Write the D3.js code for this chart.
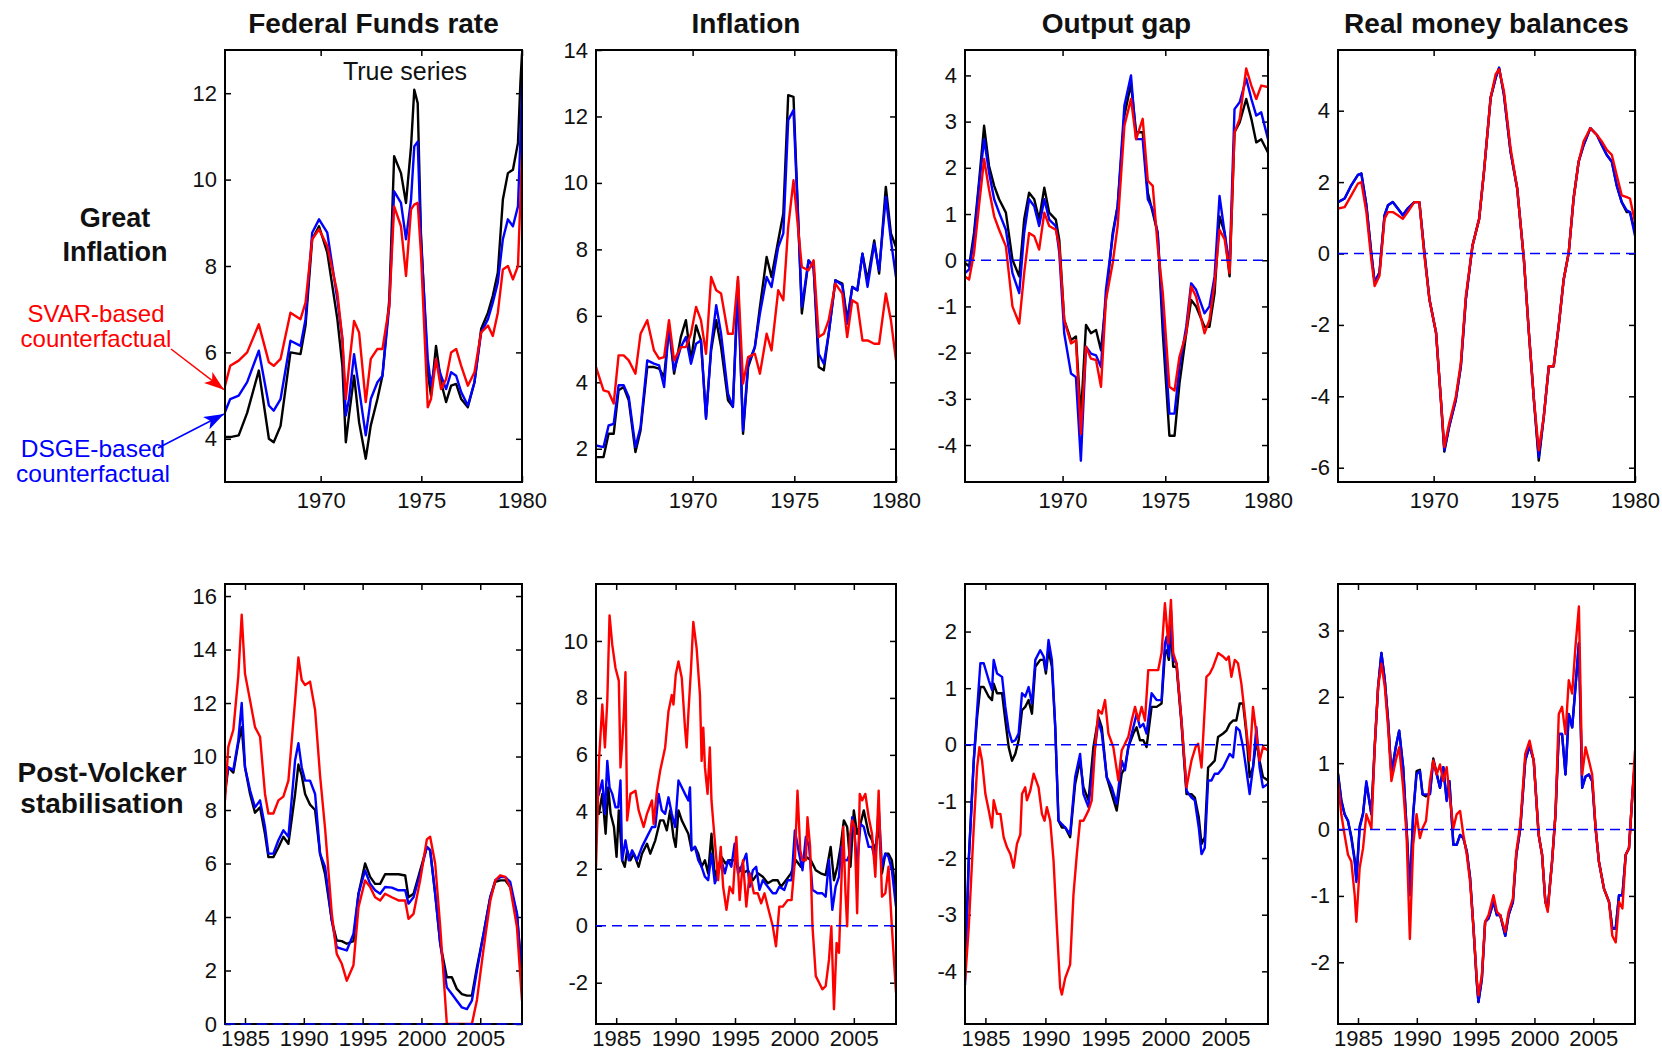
<!DOCTYPE html>
<html>
<head>
<meta charset="utf-8">
<script src="https://cdn.jsdelivr.net/npm/d3@7"></script>
<style>
  body { margin: 0; background: #fff; }
  text { font-family: "Liberation Sans", Arial, sans-serif; }
</style>
</head>
<body>
<svg id="chart" width="1662" height="1051"></svg>
<script>
// ---------------------------------------------------------------------------
// Data. Three series per panel:
// true series (black), DSGE-based counterfactual (blue), SVAR-based (red)
// ---------------------------------------------------------------------------

const colTitles = ["Federal Funds rate", "Inflation", "Output gap", "Real money balances"];
const topYearTicks = [1970, 1975, 1980];
const bottomYearTicks = [1985, 1990, 1995, 2000, 2005];
const topRange = [1965.25, 1980.0];
const bottomRange = [1983.3, 2008.55];

// --- Great Inflation: Federal Funds rate
const p1T = [1965.25,1965.51,1965.93,1966.35,1966.93,1967.43,1967.67,1968.01,1968.5,1969.0,1969.25,1969.58,1969.92,1970.33,1970.83,1971.08,1971.25,1971.41,1971.66,1971.91,1972.24,1972.49,1972.82,1973.07,1973.41,1973.65,1973.99,1974.24,1974.49,1974.65,1974.82,1974.98,1975.32,1975.48,1975.73,1975.98,1976.23,1976.48,1976.73,1976.98,1977.31,1977.64,1977.97,1978.31,1978.55,1978.8,1979.05,1979.3,1979.55,1979.8,1979.92,1980.0];
const p1True = [4.04,4.04,4.08,4.6,5.58,4.0,3.92,4.3,6.0,5.96,6.62,8.62,8.92,8.31,6.77,5.69,3.92,4.54,5.46,4.38,3.54,4.31,4.92,5.46,7.23,10.54,10.15,9.46,10.77,12.08,11.77,8.77,5.54,5.0,6.15,5.31,4.85,5.23,5.27,4.92,4.73,5.31,6.54,6.92,7.31,7.85,9.54,10.15,10.23,10.85,12.23,12.92];
const p1Dsge = [4.62,4.92,5.0,5.31,6.04,4.77,4.65,4.92,6.27,6.15,6.77,8.77,9.08,8.77,7.23,6.31,4.54,4.92,5.96,5.15,4.08,4.92,5.31,5.46,7.08,9.73,9.46,8.62,9.54,10.77,10.88,8.62,5.85,5.23,5.85,5.46,5.15,5.54,5.46,5.08,4.77,5.31,6.46,6.77,7.15,7.62,8.62,9.08,8.92,9.38,10.92,12.23];
const p1Svar = [5.23,5.69,5.81,6.0,6.65,5.77,5.69,5.85,6.92,6.77,7.15,8.62,8.85,8.46,7.38,6.31,4.92,5.69,6.73,6.46,4.85,5.85,6.08,6.08,7.08,9.38,8.92,7.77,9.31,9.42,9.46,8.31,4.73,4.92,5.85,5.15,5.38,6.0,6.08,5.69,5.23,5.54,6.46,6.62,6.38,6.92,7.92,8.0,7.69,8.0,9.54,10.62];

// --- Great Inflation: Inflation
const p2T = [1965.25,1965.62,1965.87,1966.12,1966.36,1966.61,1966.86,1967.19,1967.44,1967.77,1968.1,1968.35,1968.6,1968.84,1969.09,1969.42,1969.67,1969.92,1970.17,1970.41,1970.66,1970.91,1971.16,1971.4,1971.74,1971.98,1972.23,1972.48,1972.73,1973.06,1973.31,1973.64,1973.88,1974.21,1974.46,1974.7,1974.96,1975.37,1975.7,1975.95,1976.2,1976.45,1976.69,1977.02,1977.36,1977.6,1977.85,1978.1,1978.35,1978.6,1978.93,1979.17,1979.5,1979.75,1980.0];
const p2True = [1.75,1.75,2.45,2.45,3.76,3.86,3.46,1.9,2.55,4.46,4.46,4.41,4.16,5.66,4.26,5.36,5.87,4.66,5.71,5.26,2.95,4.96,5.87,5.06,3.46,3.26,7.07,2.45,4.46,5.06,6.27,7.77,7.17,8.27,9.08,12.64,12.59,6.07,7.67,7.47,4.46,4.36,5.46,7.07,6.97,5.87,6.87,6.77,7.87,7.07,8.27,7.27,9.88,8.48,8.07];
const p2Dsge = [2.1,2.05,2.7,2.75,3.91,3.91,3.56,2.05,2.65,4.66,4.56,4.51,3.86,5.71,4.36,5.06,5.36,4.56,5.16,5.26,2.9,5.06,6.32,5.46,3.66,3.26,6.77,2.55,4.56,5.06,6.07,7.17,6.87,8.07,8.48,11.89,12.19,6.27,7.67,7.42,4.86,4.56,5.46,7.07,6.92,5.76,6.87,6.77,7.87,6.87,8.17,7.37,9.58,8.27,7.17];
const p2Svar = [4.46,3.76,3.71,3.36,4.81,4.81,4.66,4.26,5.46,5.87,4.96,4.71,4.76,5.87,4.66,5.06,5.06,5.46,6.27,5.87,4.86,7.17,6.77,6.67,5.46,5.46,7.17,3.96,4.76,4.86,4.26,5.46,4.96,6.77,6.47,8.68,10.08,7.47,7.37,7.67,5.36,5.46,5.87,6.97,6.67,5.36,6.47,6.37,5.26,5.26,5.16,5.16,6.67,5.87,4.66];

// --- Great Inflation: Output gap
const p3T = [1965.25,1965.45,1965.69,1965.93,1966.18,1966.42,1966.67,1966.91,1967.24,1967.56,1967.89,1968.13,1968.37,1968.62,1968.86,1969.11,1969.35,1969.67,1969.84,1970.08,1970.41,1970.65,1970.89,1971.14,1971.38,1971.63,1971.87,1972.11,1972.44,1972.68,1973.01,1973.33,1973.58,1973.9,1974.15,1974.39,1974.63,1974.88,1975.2,1975.45,1975.69,1976.02,1976.26,1976.5,1976.91,1977.15,1977.4,1977.64,1977.89,1978.13,1978.37,1978.62,1978.94,1979.19,1979.43,1979.67,1980.0];
const p3True = [-0.06,-0.13,0.59,1.68,2.91,2.04,1.61,1.32,1.03,0.01,-0.35,0.88,1.46,1.32,0.88,1.57,1.03,0.88,0.44,-1.29,-1.73,-1.65,-3.4,-1.4,-1.58,-1.51,-1.95,-0.86,0.59,1.17,3.13,3.82,2.77,2.77,1.46,1.03,0.59,-1.58,-3.8,-3.8,-2.67,-1.58,-0.86,-1.0,-1.44,-1.44,-0.71,0.95,0.59,-0.35,2.77,2.98,3.49,3.06,2.55,2.62,2.33];
const p3Dsge = [-0.28,-0.2,0.45,1.61,2.62,1.9,1.32,1.03,0.66,-0.28,-0.71,0.59,1.32,1.17,0.74,1.32,0.88,0.74,0.16,-1.58,-2.45,-2.53,-4.34,-1.87,-2.02,-2.06,-2.31,-0.64,0.52,1.17,3.35,4.0,2.62,2.62,1.32,1.1,0.59,-1.22,-3.32,-3.32,-2.31,-1.44,-0.5,-0.64,-1.15,-1.0,-0.35,1.39,0.59,-0.13,3.27,3.42,3.93,3.49,3.13,3.2,2.62];
const p3Svar = [-0.35,-0.42,0.16,1.17,2.19,1.53,0.95,0.66,0.3,-1.0,-1.37,-0.28,0.59,0.52,0.23,1.03,0.74,0.66,0.3,-1.29,-1.8,-1.73,-3.76,-1.87,-2.13,-2.16,-2.74,-0.86,-0.06,0.74,2.91,3.49,2.62,3.06,1.72,1.61,0.3,-0.71,-2.74,-2.82,-2.09,-1.58,-0.57,-0.79,-1.58,-1.29,-0.5,0.66,0.45,-0.28,2.77,3.06,4.15,3.78,3.49,3.78,3.75];

// --- Great Inflation: Real money balances
const p4T = [1965.25,1965.58,1965.91,1966.24,1966.41,1966.66,1966.9,1967.07,1967.31,1967.56,1967.73,1967.97,1968.22,1968.47,1968.71,1969.04,1969.29,1969.54,1969.79,1970.12,1970.36,1970.53,1970.77,1971.1,1971.35,1971.6,1971.93,1972.26,1972.5,1972.83,1973.08,1973.25,1973.49,1973.82,1974.15,1974.48,1974.73,1974.98,1975.22,1975.47,1975.72,1975.96,1976.21,1976.46,1976.71,1976.95,1977.2,1977.45,1977.78,1978.11,1978.35,1978.6,1978.85,1979.09,1979.34,1979.59,1979.75,1980.0];
const p4True = [1.44,1.54,1.91,2.2,2.24,1.35,0.03,-0.81,-0.53,1.07,1.35,1.44,1.26,1.07,1.26,1.44,1.44,0.03,-1.28,-2.22,-4.1,-5.55,-4.85,-4.1,-3.16,-1.28,0.22,0.97,2.29,4.36,4.92,5.2,4.45,2.85,1.82,-0.15,-2.22,-4.1,-5.8,-4.57,-3.16,-3.16,-2.03,-0.72,0.03,1.54,2.57,3.04,3.51,3.32,3.04,2.76,2.57,1.91,1.44,1.16,1.16,0.6];
const p4Dsge = [1.44,1.54,1.91,2.2,2.24,1.35,0.03,-0.81,-0.53,1.07,1.35,1.44,1.26,1.07,1.26,1.44,1.44,0.03,-1.28,-2.22,-4.1,-5.51,-4.85,-4.1,-3.16,-1.28,0.22,0.97,2.29,4.36,4.92,5.2,4.45,2.85,1.82,-0.15,-2.22,-4.1,-5.7,-4.57,-3.16,-3.16,-2.03,-0.72,0.03,1.54,2.57,3.04,3.51,3.32,3.04,2.76,2.57,1.91,1.44,1.21,1.16,0.5];
const p4Svar = [1.26,1.3,1.63,1.96,2.0,1.16,-0.15,-0.91,-0.62,0.97,1.16,1.16,1.07,0.97,1.16,1.44,1.44,-0.06,-1.28,-2.22,-4.1,-5.42,-4.76,-4.01,-3.07,-1.19,0.22,0.97,2.29,4.36,5.02,5.16,4.55,2.95,1.82,-0.15,-2.22,-4.1,-5.51,-4.57,-3.16,-3.16,-2.03,-0.72,0.03,1.54,2.57,3.14,3.51,3.32,3.14,2.9,2.76,2.2,1.63,1.58,1.54,0.88];

// --- Post-Volcker: Federal Funds rate
const p5T = [1983.3,1983.58,1984.01,1984.43,1984.72,1985.0,1985.43,1985.85,1986.28,1986.7,1986.99,1987.41,1987.84,1988.26,1988.69,1989.26,1989.54,1989.82,1990.11,1990.53,1990.96,1991.38,1991.81,1992.38,1992.8,1993.23,1993.65,1994.22,1994.65,1995.21,1995.64,1996.06,1996.49,1996.91,1997.48,1998.05,1998.62,1998.9,1999.33,1999.89,2000.46,2000.74,2001.17,2001.6,2002.16,2002.59,2003.01,2003.44,2003.87,2004.29,2004.72,2005.28,2005.85,2006.28,2006.7,2007.13,2007.55,2008.12,2008.55];
const p5True = [8.6,9.6,9.4,10.5,11.1,9.6,8.6,7.9,8.1,7.1,6.24,6.24,6.6,7.0,6.74,8.6,9.7,9.3,8.6,8.2,8.0,6.37,5.6,3.87,3.12,3.1,3.0,3.1,4.87,6.0,5.5,5.24,5.24,5.6,5.6,5.6,5.55,4.74,4.87,5.74,6.62,6.5,4.87,3.0,1.75,1.75,1.31,1.12,1.06,1.06,2.12,3.37,4.74,5.31,5.37,5.37,5.12,4.12,1.75];
const p5Dsge = [8.86,9.6,9.5,10.6,12.0,9.6,8.74,8.1,8.36,7.37,6.37,6.37,6.87,7.24,7.0,9.86,10.5,9.6,9.1,9.1,8.6,6.37,5.87,3.87,2.87,2.81,2.75,3.37,4.87,5.74,5.24,5.0,4.87,5.12,5.1,5.0,5.0,4.5,4.74,5.62,6.62,6.5,4.87,3.0,1.37,1.12,0.87,0.62,0.56,0.87,2.0,3.37,4.74,5.37,5.49,5.49,5.31,4.12,1.75];
const p5Svar = [8.36,10.36,11.0,13.0,15.3,13.1,12.1,11.1,10.74,8.6,7.87,7.87,8.36,8.5,9.1,12.1,13.7,12.86,12.67,12.8,11.74,9.3,7.3,4.12,2.62,2.25,1.62,2.2,4.37,5.37,5.12,4.74,4.62,4.87,4.74,4.62,4.62,3.93,4.12,5.37,6.9,7.0,6.0,3.62,0,0,0,0,0,0,0.9,2.8,4.6,5.37,5.56,5.5,5.1,3.62,0.87];

// --- Post-Volcker: Inflation ([year, value] pairs, irregular reading points)
const p6True = [[1983.3,4.4],[1983.55,3.93],[1983.83,4.63],[1984.11,3.23],[1984.33,4.86],[1984.53,3.93],[1984.81,3.47],[1985.03,2.42],[1985.22,4.05],[1985.5,2.3],[1985.72,2.07],[1985.92,2.65],[1986.2,2.3],[1986.48,2.53],[1986.89,2.07],[1987.17,2.53],[1987.59,2.88],[1987.87,2.53],[1988.29,3.0],[1988.7,3.7],[1988.98,3.7],[1989.26,3.35],[1989.54,4.05],[1989.82,3.12],[1990.01,2.77],[1990.24,4.05],[1990.52,3.7],[1990.79,3.47],[1991.07,3.23],[1991.35,2.65],[1991.63,2.77],[1991.91,2.53],[1992.19,2.07],[1992.47,2.3],[1992.74,1.84],[1993.02,3.23],[1993.3,1.72],[1993.58,2.07],[1993.86,2.42],[1994.19,2.19],[1994.55,2.3],[1994.97,2.3],[1995.25,2.07],[1995.67,1.84],[1996.09,1.95],[1996.5,1.6],[1996.92,1.84],[1997.34,1.72],[1997.76,1.49],[1998.18,1.6],[1998.59,1.6],[1998.87,1.37],[1999.29,1.6],[1999.71,1.84],[2000.13,2.3],[2000.54,2.07],[2000.96,2.42],[2001.38,2.3],[2001.8,1.95],[2002.21,1.84],[2002.63,1.78],[2003.05,2.77],[2003.33,1.6],[2003.61,2.07],[2003.89,2.77],[2004.16,3.7],[2004.44,3.47],[2004.72,2.07],[2005.0,4.05],[2005.28,3.23],[2005.56,3.58],[2005.84,4.05],[2006.25,3.23],[2006.53,3.0],[2006.81,2.65],[2007.09,3.58],[2007.37,1.84],[2007.65,2.53],[2007.92,2.53],[2008.2,2.3],[2008.55,1.14]];
const p6Dsge = [[1983.3,4.4],[1983.55,4.63],[1983.83,5.1],[1984.05,3.93],[1984.25,5.79],[1984.44,4.86],[1984.67,4.63],[1984.94,4.16],[1985.17,4.16],[1985.36,5.1],[1985.5,2.3],[1985.78,3.0],[1986.06,2.3],[1986.34,2.65],[1986.75,2.3],[1987.17,2.77],[1987.59,3.12],[1988.01,3.47],[1988.29,3.47],[1988.57,4.63],[1988.84,4.05],[1989.12,3.93],[1989.4,4.51],[1989.68,3.93],[1989.96,3.47],[1990.24,5.1],[1990.52,4.86],[1990.79,4.63],[1991.07,4.4],[1991.21,4.86],[1991.35,2.65],[1991.63,2.77],[1991.91,2.3],[1992.19,2.07],[1992.47,1.72],[1992.74,1.6],[1993.02,2.53],[1993.3,1.49],[1993.58,1.84],[1993.86,2.3],[1994.14,1.84],[1994.42,2.3],[1994.69,2.07],[1994.97,2.88],[1995.25,1.84],[1995.53,2.07],[1995.95,2.53],[1996.23,1.37],[1996.5,1.95],[1996.78,2.07],[1997.06,1.26],[1997.34,1.6],[1997.76,1.37],[1998.18,1.14],[1998.45,1.14],[1998.73,1.37],[1999.15,1.26],[1999.43,1.6],[1999.76,1.6],[2000.04,3.35],[2000.4,2.53],[2000.68,1.95],[2000.96,3.12],[2001.24,2.77],[2001.52,1.26],[2001.94,1.14],[2002.35,1.14],[2002.63,1.02],[2002.91,2.3],[2003.19,0.56],[2003.47,1.37],[2003.75,1.72],[2003.94,2.77],[2004.16,2.3],[2004.44,2.3],[2004.67,2.53],[2004.86,3.81],[2005.06,3.23],[2005.28,2.07],[2005.56,3.58],[2005.84,3.47],[2006.25,2.77],[2006.53,2.77],[2006.81,2.3],[2007.09,4.16],[2007.37,2.07],[2007.65,2.53],[2007.92,2.42],[2008.2,1.95],[2008.55,0.67]];
const p6Svar = [[1983.3,2.07],[1983.55,5.8],[1983.83,7.77],[1984.05,6.26],[1984.25,7.9],[1984.44,10.9],[1984.67,9.86],[1984.94,9.05],[1985.22,8.6],[1985.36,5.56],[1985.5,6.37],[1985.64,7.4],[1985.78,8.9],[1985.84,6.7],[1985.92,3.7],[1986.2,4.63],[1986.62,4.74],[1986.89,4.05],[1987.31,3.47],[1987.59,3.93],[1988.01,4.4],[1988.15,3.58],[1988.43,4.74],[1988.7,5.44],[1989.12,6.26],[1989.4,7.53],[1989.68,8.1],[1989.82,7.77],[1990.01,8.81],[1990.24,9.28],[1990.52,8.7],[1990.79,6.95],[1990.93,6.26],[1991.07,7.42],[1991.3,9.05],[1991.49,10.67],[1991.77,9.74],[1992.05,8.1],[1992.19,5.79],[1992.33,6.95],[1992.47,5.56],[1992.69,4.63],[1992.88,6.26],[1993.02,4.4],[1993.25,3.23],[1993.44,2.3],[1993.58,1.6],[1993.8,2.77],[1994.0,1.37],[1994.28,0.56],[1994.55,1.37],[1994.83,1.14],[1995.11,3.12],[1995.39,0.9],[1995.67,2.3],[1995.95,0.67],[1996.23,1.84],[1996.59,1.14],[1996.92,1.14],[1997.2,0.79],[1997.48,1.14],[1997.76,0.67],[1998.18,-0.02],[1998.45,-0.72],[1998.73,0.67],[1999.01,0.67],[1999.43,0.9],[1999.76,0.9],[2000.04,2.3],[2000.26,4.74],[2000.49,2.65],[2000.68,2.3],[2000.96,2.3],[2001.1,3.81],[2001.32,2.77],[2001.52,-0.02],[2001.8,-1.77],[2002.08,-2.0],[2002.35,-2.23],[2002.63,-2.12],[2002.91,-1.19],[2003.11,-0.02],[2003.33,-2.93],[2003.55,-0.6],[2003.75,-0.95],[2003.94,1.37],[2004.11,3.47],[2004.3,1.14],[2004.44,-0.02],[2004.67,3.12],[2004.86,3.7],[2005.06,3.47],[2005.28,0.44],[2005.5,4.63],[2005.7,4.4],[2005.97,4.63],[2006.25,3.81],[2006.53,3.23],[2006.81,1.72],[2007.09,4.74],[2007.37,1.02],[2007.65,1.14],[2007.92,2.07],[2008.2,-0.02],[2008.55,-2.35]];

// --- Post-Volcker: Output gap
const p7T = [1983.3,1983.61,1984.03,1984.31,1984.58,1984.86,1985.28,1985.55,1985.69,1985.97,1986.39,1986.66,1986.94,1987.22,1987.49,1987.77,1988.05,1988.32,1988.6,1988.88,1989.16,1989.57,1989.85,1990.04,1990.26,1990.54,1990.82,1991.09,1991.37,1991.65,1992.06,1992.48,1992.89,1993.17,1993.59,1994.0,1994.42,1994.7,1995.11,1995.53,1995.94,1996.36,1996.63,1996.91,1997.33,1997.6,1997.88,1998.16,1998.43,1998.85,1999.27,1999.68,1999.96,2000.1,2000.29,2000.46,2000.65,2000.93,2001.34,2001.76,2002.17,2002.45,2002.78,2003.01,2003.28,2003.56,2003.84,2004.11,2004.39,2004.81,2005.08,2005.36,2005.64,2005.91,2006.19,2006.47,2006.75,2007.02,2007.3,2007.58,2007.85,2008.13,2008.55];
const p7True = [-3.94,-2.05,-0.28,0.49,1.02,1.02,0.85,0.79,1.08,0.91,0.91,0.43,-0.04,-0.28,-0.16,0.08,0.61,0.67,0.79,0.55,1.38,1.5,1.5,1.26,1.67,1.38,0.31,-1.34,-1.46,-1.46,-1.63,-0.69,-0.28,-0.75,-0.98,-0.04,0.49,0.31,-0.57,-0.87,-1.16,-0.51,-0.4,-0.04,0.2,0.31,0.08,0.08,-0.04,0.67,0.67,0.73,1.62,1.67,1.5,2.09,1.38,1.38,0.37,-0.87,-0.87,-0.93,-1.28,-1.75,-1.63,-0.4,-0.34,-0.28,0.14,0.2,0.25,0.37,0.43,0.43,0.73,0.73,0.2,-0.57,-0.4,0.08,-0.28,-0.57,-0.63];
const p7Dsge = [-4.24,-2.05,-0.28,0.61,1.44,1.44,1.14,0.97,1.5,1.26,1.2,0.67,0.25,0.05,0.08,0.2,0.91,0.85,1.02,0.73,1.5,1.67,1.56,1.32,1.85,1.5,0.31,-1.34,-1.4,-1.46,-1.58,-0.57,-0.16,-0.87,-1.1,-0.28,0.43,0.2,-0.57,-0.75,-1.04,-0.28,-0.45,-0.04,0.31,0.55,0.31,0.37,0.2,0.91,0.79,0.79,1.79,1.91,1.56,2.38,1.5,1.44,0.43,-0.81,-0.93,-0.98,-1.46,-1.93,-1.82,-0.63,-0.63,-0.51,-0.51,-0.4,-0.28,-0.16,-0.22,0.31,0.25,-0.04,-0.45,-0.87,-0.4,0.31,-0.4,-0.75,-0.69];
const p7Svar = [[1983.3,-4.18],[1983.61,-3.23],[1984.03,-1.46],[1984.31,-0.4],[1984.5,-0.04],[1984.72,-0.28],[1985.0,-0.87],[1985.28,-1.16],[1985.55,-1.46],[1985.69,-0.98],[1985.97,-1.22],[1986.25,-1.22],[1986.52,-1.63],[1986.8,-1.81],[1987.08,-1.93],[1987.35,-2.17],[1987.63,-1.75],[1987.91,-1.58],[1988.05,-0.87],[1988.32,-0.75],[1988.46,-0.98],[1988.74,-0.81],[1989.02,-0.51],[1989.43,-0.75],[1989.71,-1.22],[1989.93,-1.34],[1990.12,-1.1],[1990.4,-1.34],[1990.68,-2.05],[1990.96,-3.23],[1991.23,-4.29],[1991.37,-4.41],[1991.65,-4.12],[1992.06,-3.88],[1992.34,-2.64],[1992.62,-1.93],[1992.89,-1.34],[1993.17,-1.34],[1993.59,-1.16],[1993.86,-0.98],[1994.14,-0.04],[1994.42,0.61],[1994.7,0.55],[1994.97,0.79],[1995.25,0.2],[1995.66,-0.04],[1996.08,-0.63],[1996.36,-0.1],[1996.63,0.02],[1996.91,0.14],[1997.19,0.43],[1997.47,0.67],[1997.74,0.43],[1998.02,0.67],[1998.3,0.43],[1998.57,1.32],[1998.99,1.32],[1999.4,1.32],[1999.68,1.62],[1999.96,2.5],[2000.24,1.79],[2000.46,2.56],[2000.65,1.62],[2000.93,1.44],[2001.34,0.43],[2001.76,-0.75],[2002.17,-0.28],[2002.51,-0.04],[2002.73,0.02],[2003.01,-0.4],[2003.42,1.2],[2003.7,1.26],[2003.98,1.38],[2004.39,1.62],[2004.81,1.56],[2005.08,1.5],[2005.28,1.56],[2005.5,1.2],[2005.78,1.5],[2006.05,1.44],[2006.33,1.08],[2006.61,0.55],[2007.02,-0.28],[2007.3,0.67],[2007.58,0.2],[2007.85,-0.28],[2008.13,-0.04],[2008.55,-0.1]];

// --- Post-Volcker: Real money balances
const p8T = [1983.3,1983.58,1983.86,1984.15,1984.43,1984.72,1984.86,1985.14,1985.43,1985.71,1986.14,1986.42,1986.71,1986.99,1987.28,1987.56,1987.84,1988.21,1988.5,1988.84,1989.13,1989.41,1989.69,1989.98,1990.26,1990.49,1990.78,1991.12,1991.4,1991.69,1991.97,1992.25,1992.54,1992.77,1993.11,1993.39,1993.68,1993.96,1994.25,1994.53,1994.82,1995.1,1995.24,1995.53,1995.81,1996.1,1996.52,1996.81,1997.09,1997.52,1997.8,1998.17,1998.46,1998.8,1999.22,1999.59,1999.94,2000.36,2000.65,2000.93,2001.13,2001.5,2001.79,2002.07,2002.35,2002.64,2002.92,2003.21,2003.49,2003.78,2004.06,2004.35,2004.63,2004.91,2005.2,2005.48,2005.91,2006.34,2006.62,2006.91,2007.19,2007.48,2007.76,2008.04,2008.33,2008.55];
const p8True = [0.85,0.45,0.23,0.13,-0.1,-0.45,-0.75,0.05,0.25,0.7,0.23,1.24,2.15,2.66,2.25,1.64,0.83,1.24,1.49,0.94,0.02,-0.95,0.23,0.88,0.9,0.53,0.5,0.55,1.07,0.85,0.63,0.94,0.45,0.73,-0.23,-0.23,-0.08,-0.13,-0.33,-0.73,-1.49,-2.3,-2.6,-2.25,-1.39,-1.34,-1.09,-1.29,-1.29,-1.6,-1.29,-1.09,-0.38,0.02,1.04,1.26,1.04,-0.08,-0.38,-1.09,-1.19,-0.48,0.23,1.44,1.44,0.83,1.74,1.54,2.15,2.81,0.63,0.8,0.83,0.73,0.02,-0.48,-0.89,-1.09,-1.49,-1.49,-0.99,-0.99,-0.38,-0.28,0.53,1.04];
const p8Dsge = [0.83,0.43,0.23,0.13,-0.13,-0.48,-0.79,0.02,0.23,0.73,0.23,1.24,2.15,2.66,2.25,1.64,0.83,1.24,1.49,0.94,0.02,-0.99,0.23,0.83,0.88,0.53,0.53,0.53,1.04,0.83,0.63,0.94,0.43,0.73,-0.23,-0.23,-0.08,-0.13,-0.33,-0.73,-1.49,-2.3,-2.6,-2.25,-1.39,-1.34,-1.09,-1.29,-1.29,-1.6,-1.29,-1.09,-0.38,0.02,1.04,1.26,1.04,-0.08,-0.38,-1.09,-1.19,-0.48,0.23,1.44,1.44,0.83,1.74,1.54,2.15,2.81,0.63,0.8,0.83,0.73,0.02,-0.48,-0.89,-1.09,-1.49,-1.49,-0.99,-0.99,-0.38,-0.28,0.53,1.04];
const p8Svar = [0.73,0.23,-0.08,-0.38,-0.48,-0.99,-1.39,-0.58,-0.28,0.23,0.02,1.24,2.15,2.5,2.15,1.54,0.73,1.04,1.24,0.63,-0.08,-1.65,-0.23,0.23,-0.13,0.02,0.13,0.73,1.04,0.83,0.98,0.73,0.94,0.53,0.02,0.23,0.28,-0.08,-0.38,-0.79,-1.49,-2.25,-2.5,-2.2,-1.39,-1.29,-0.99,-1.24,-1.29,-1.54,-1.24,-1.04,-0.33,0.08,1.14,1.34,1.04,-0.08,-0.38,-1.09,-1.24,-0.48,0.23,1.74,1.85,1.44,2.25,2.05,2.76,3.36,0.83,1.24,1.04,0.83,0.02,-0.48,-0.89,-1.09,-1.6,-1.7,-1.09,-1.19,-0.38,-0.28,0.53,1.19];

// ---------------------------------------------------------------------------
// Panel setup
// ---------------------------------------------------------------------------
const panels = [
  { row: 0, col: 0, yDomain: [3, 13],       yTicks: [4, 6, 8, 10, 12],         zero: false, series: [d3.zip(p1T, p1True), d3.zip(p1T, p1Dsge), d3.zip(p1T, p1Svar)] },
  { row: 0, col: 1, yDomain: [1, 14],       yTicks: [2, 4, 6, 8, 10, 12, 14],  zero: false, series: [d3.zip(p2T, p2True), d3.zip(p2T, p2Dsge), d3.zip(p2T, p2Svar)] },
  { row: 0, col: 2, yDomain: [-4.8, 4.55],  yTicks: [-4, -3, -2, -1, 0, 1, 2, 3, 4], zero: true, series: [d3.zip(p3T, p3True), d3.zip(p3T, p3Dsge), d3.zip(p3T, p3Svar)] },
  { row: 0, col: 3, yDomain: [-6.4, 5.7],   yTicks: [-6, -4, -2, 0, 2, 4],     zero: true,  series: [d3.zip(p4T, p4True), d3.zip(p4T, p4Dsge), d3.zip(p4T, p4Svar)] },
  { row: 1, col: 0, yDomain: [0, 16.45],    yTicks: [0, 2, 4, 6, 8, 10, 12, 14, 16], zero: true, series: [d3.zip(p5T, p5True), d3.zip(p5T, p5Dsge), d3.zip(p5T, p5Svar)] },
  { row: 1, col: 1, yDomain: [-3.45, 12],   yTicks: [-2, 0, 2, 4, 6, 8, 10],   zero: true,  series: [p6True, p6Dsge, p6Svar] },
  { row: 1, col: 2, yDomain: [-4.93, 2.84], yTicks: [-4, -3, -2, -1, 0, 1, 2], zero: true,  series: [d3.zip(p7T, p7True), d3.zip(p7T, p7Dsge), p7Svar] },
  { row: 1, col: 3, yDomain: [-2.93, 3.7],  yTicks: [-2, -1, 0, 1, 2, 3],      zero: true,  series: [d3.zip(p8T, p8True), d3.zip(p8T, p8Dsge), d3.zip(p8T, p8Svar)] }
];

const colLeft = [225, 596, 965, 1338];
const colWidth = [297, 300, 303, 297];
const rowTop = [50, 584];
const rowHeight = [432, 440];
const seriesColors = ["#000000", "#0000ff", "#ff0000"];
const FONT = '"Liberation Sans", Arial, sans-serif';
const plainNum = d => String(d);   // hyphen-minus, no decimals, like the original

const svg = d3.select("#chart");

// arrow heads for the annotations
const defs = svg.append("defs");
[["arrRed", "#ff0000"], ["arrBlue", "#0000ff"]].forEach(([id, c]) => {
  defs.append("marker")
      .attr("id", id)
      .attr("viewBox", "0 0 20 14")
      .attr("refX", 20).attr("refY", 7)
      .attr("markerWidth", 20).attr("markerHeight", 14)
      .attr("markerUnits", "userSpaceOnUse")
      .attr("orient", "auto")
    .append("path")
      .attr("d", "M0,0 L20,7 L0,14 L5,7 Z")
      .attr("fill", c);
});

function styleAxis(sel) {
  sel.select(".domain").remove();
  sel.selectAll("line").attr("stroke", "#000").attr("stroke-width", 1.5);
  sel.selectAll("text")
     .attr("font-size", 22)
     .attr("font-family", FONT)
     .attr("fill", "#111");
}

const scales = [];

panels.forEach((p, i) => {
  const w = colWidth[p.col], h = rowHeight[p.row];
  const g = svg.append("g").attr("transform", `translate(${colLeft[p.col]},${rowTop[p.row]})`);

  const x = d3.scaleLinear().domain(p.row ? bottomRange : topRange).range([0, w]);
  const y = d3.scaleLinear().domain(p.yDomain).range([h, 0]);
  scales.push({ x, y });
  const xTicks = p.row ? bottomYearTicks : topYearTicks;

  g.append("clipPath").attr("id", "clip" + i)
    .append("rect").attr("width", w).attr("height", h);

  // ticks inside, on all four sides (box style)
  g.append("g")
    .call(d3.axisLeft(y).tickValues(p.yTicks).tickFormat(plainNum).tickSizeInner(-6).tickSizeOuter(0).tickPadding(8))
    .call(styleAxis);
  g.append("g").attr("transform", `translate(${w},0)`)
    .call(d3.axisRight(y).tickValues(p.yTicks).tickSizeInner(-6).tickSizeOuter(0).tickFormat(""))
    .call(styleAxis);
  g.append("g").attr("transform", `translate(0,${h})`)
    .call(d3.axisBottom(x).tickValues(xTicks).tickFormat(plainNum).tickSizeInner(-6).tickSizeOuter(0).tickPadding(p.row ? 6 : 10))
    .call(styleAxis);
  g.append("g")
    .call(d3.axisTop(x).tickValues(xTicks).tickSizeInner(-6).tickSizeOuter(0).tickFormat(""))
    .call(styleAxis);

  const line = d3.line().x(d => x(d[0])).y(d => y(d[1]));
  const plot = g.append("g").attr("clip-path", `url(#clip${i})`);
  p.series.forEach((s, k) => {
    plot.append("path")
      .datum(s)
      .attr("d", line)
      .attr("fill", "none")
      .attr("stroke", seriesColors[k])
      .attr("stroke-width", 2.4)
      .attr("stroke-linejoin", "round");
  });

  g.append("rect")
    .attr("width", w).attr("height", h)
    .attr("fill", "none").attr("stroke", "#000").attr("stroke-width", 2);

  if (p.zero) {
    g.append("line")
      .attr("x1", 0).attr("x2", w)
      .attr("y1", y(0)).attr("y2", y(0))
      .attr("stroke", "#0000ff").attr("stroke-width", 1.6)
      .attr("stroke-dasharray", "10,6");
  }

  if (p.row === 0) {
    g.append("text")
      .attr("x", w / 2).attr("y", -17)
      .attr("text-anchor", "middle")
      .attr("font-size", 28).attr("font-weight", "bold")
      .attr("fill", "#111")
      .text(colTitles[p.col]);
  }
});

// "True series" label inside the first panel
svg.append("text")
  .attr("x", 405).attr("y", 80)
  .attr("text-anchor", "middle")
  .attr("font-size", 25)
  .attr("fill", "#111")
  .text("True series");

// Row labels
function multiLine(lines, cx, baselines, opts) {
  lines.forEach((t, j) => {
    svg.append("text")
      .attr("x", cx).attr("y", baselines[j])
      .attr("text-anchor", "middle")
      .attr("font-size", opts.size)
      .attr("font-weight", opts.weight || "normal")
      .attr("fill", opts.color || "#111")
      .text(t);
  });
}
multiLine(["Great", "Inflation"], 115, [227, 261], { size: 27, weight: "bold" });
multiLine(["Post-Volcker", "stabilisation"], 102, [782, 813], { size: 28, weight: "bold" });

// Counterfactual annotations with arrows pointing at the start of each line
multiLine(["SVAR-based", "counterfactual"], 96, [322, 347], { size: 24, color: "#ff0000" });
multiLine(["DSGE-based", "counterfactual"], 93, [457, 482], { size: 24.5, color: "#0000ff" });

const s0 = scales[0];
const svarTip = [colLeft[0] + s0.x(p1T[0]) - 1, rowTop[0] + s0.y(p1Svar[0]) + 4];
const dsgeTip = [colLeft[0] + s0.x(p1T[0]) - 1, rowTop[0] + s0.y(p1Dsge[0]) + 2];

svg.append("line")
  .attr("x1", 171).attr("y1", 349)
  .attr("x2", svarTip[0]).attr("y2", svarTip[1])
  .attr("stroke", "#ff0000").attr("stroke-width", 1.5)
  .attr("marker-end", "url(#arrRed)");
svg.append("line")
  .attr("x1", 158).attr("y1", 448)
  .attr("x2", dsgeTip[0]).attr("y2", dsgeTip[1])
  .attr("stroke", "#0000ff").attr("stroke-width", 1.5)
  .attr("marker-end", "url(#arrBlue)");
</script>
</body>
</html>
